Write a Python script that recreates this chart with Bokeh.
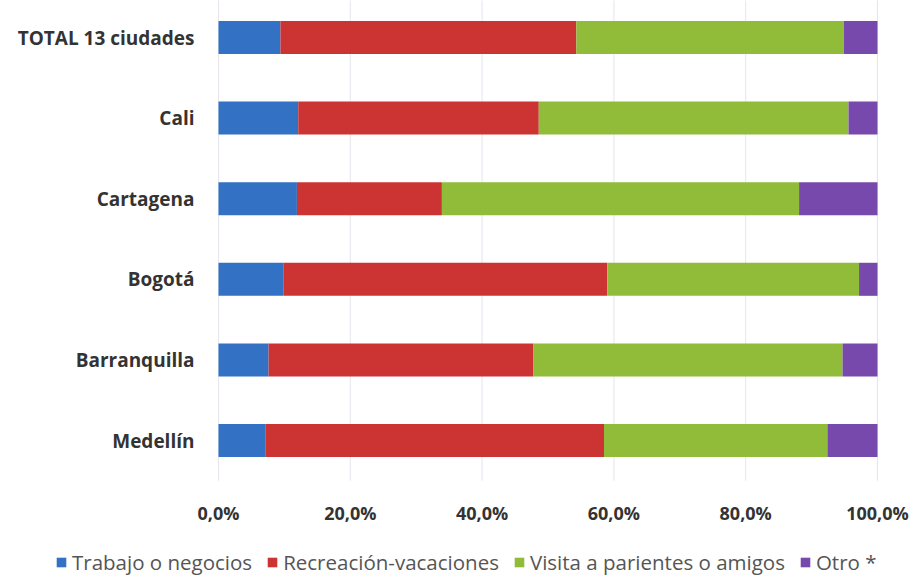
from bokeh.plotting import figure
from bokeh.models import Range1d, Legend, LegendItem, FixedTicker, CustomJSTickFormatter, LinearAxis
from bokeh.embed import file_html
from bokeh.resources import INLINE

cities = ["Medellín", "Barranquilla", "Bogotá", "Cartagena", "Cali", "TOTAL 13 ciudades"]
trabajo = [7.1, 7.6, 9.9, 11.9, 12.1, 9.4]
recreacion = [51.4, 40.2, 49.1, 22.0, 36.5, 44.9]
visita = [33.9, 46.9, 38.2, 54.2, 47.0, 40.6]
otro = [7.6, 5.3, 2.8, 11.9, 4.4, 5.1]
series_names = ["Trabajo o negocios", "Recreación-vacaciones", "Visita a parientes o amigos", "Otro *"]
keys = ["trabajo", "recreacion", "visita", "otro"]
colors = ["#3271C4", "#CB3432", "#90BC3A", "#7849AC"]
x_ticks = [0, 20, 40, 60, 80, 100]

ypos = list(range(len(cities)))
data = dict(city=cities, ypos=ypos, trabajo=trabajo, recreacion=recreacion, visita=visita, otro=otro)

# layout geometry (pixels): plot area from x=218 to 877, category bands 80.6 px tall
W, H = 915, 576
left_px, right_px = 218, 877
band = 80.6
top_center_px = 37
sx = (right_px - left_px) / 100.0
x_start = -left_px / sx
x_end = 100 + (W - right_px) / sx
y_end = (len(cities) - 1) + top_center_px / band
y_start = y_end - H / band

p = figure(width=W, height=H, x_range=Range1d(x_start, x_end), y_range=Range1d(y_start, y_end),
           x_axis_type=None, y_axis_type=None,
           output_backend="svg", toolbar_location=None, min_border=0)
p.outline_line_color = None
p.grid.visible = False

# vertical grid lines over the category area
p.segment(x0=x_ticks, x1=x_ticks, y0=-0.5, y1=len(cities) - 0.5, line_color="#E4E6EE", line_width=1)

rends = p.hbar_stack(keys, y="ypos", height=0.41, color=colors, source=data, line_color=None)

xaxis = LinearAxis(fixed_location=-0.5, ticker=FixedTicker(ticks=x_ticks),
                   formatter=CustomJSTickFormatter(code="return tick.toFixed(1).replace('.', ',') + '%';"))
xaxis.axis_line_color = None
xaxis.major_tick_line_color = None
xaxis.minor_tick_line_color = None
xaxis.major_tick_out = 0
xaxis.major_label_standoff = 20
xaxis.major_label_text_font = "Open Sans"
xaxis.major_label_text_font_style = "bold"
xaxis.major_label_text_font_size = "18px"
xaxis.major_label_text_color = "#333333"
p.add_layout(xaxis, "below")

yaxis = LinearAxis(fixed_location=0, ticker=FixedTicker(ticks=ypos),
                   major_label_overrides={i: c for i, c in zip(ypos, cities)})
yaxis.axis_line_color = None
yaxis.major_tick_line_color = None
yaxis.minor_tick_line_color = None
yaxis.major_tick_out = 0
yaxis.major_label_standoff = 24
yaxis.major_label_text_font = "Open Sans"
yaxis.major_label_text_font_style = "bold"
yaxis.major_label_text_font_size = "19px"
yaxis.major_label_text_color = "#333333"
p.add_layout(yaxis, "left")

legend = Legend(items=[LegendItem(label=n, renderers=[r]) for n, r in zip(series_names, rends)],
                orientation="horizontal", location=(55, 0), padding=0, margin=0,
                spacing=14, glyph_width=12, glyph_height=12, label_standoff=5,
                label_text_font="Open Sans", label_text_font_size="20.5px", label_text_color="#555555",
                background_fill_alpha=0, border_line_color=None)
p.add_layout(legend, "center")

open("out.html", "w").write(file_html(p, INLINE))
